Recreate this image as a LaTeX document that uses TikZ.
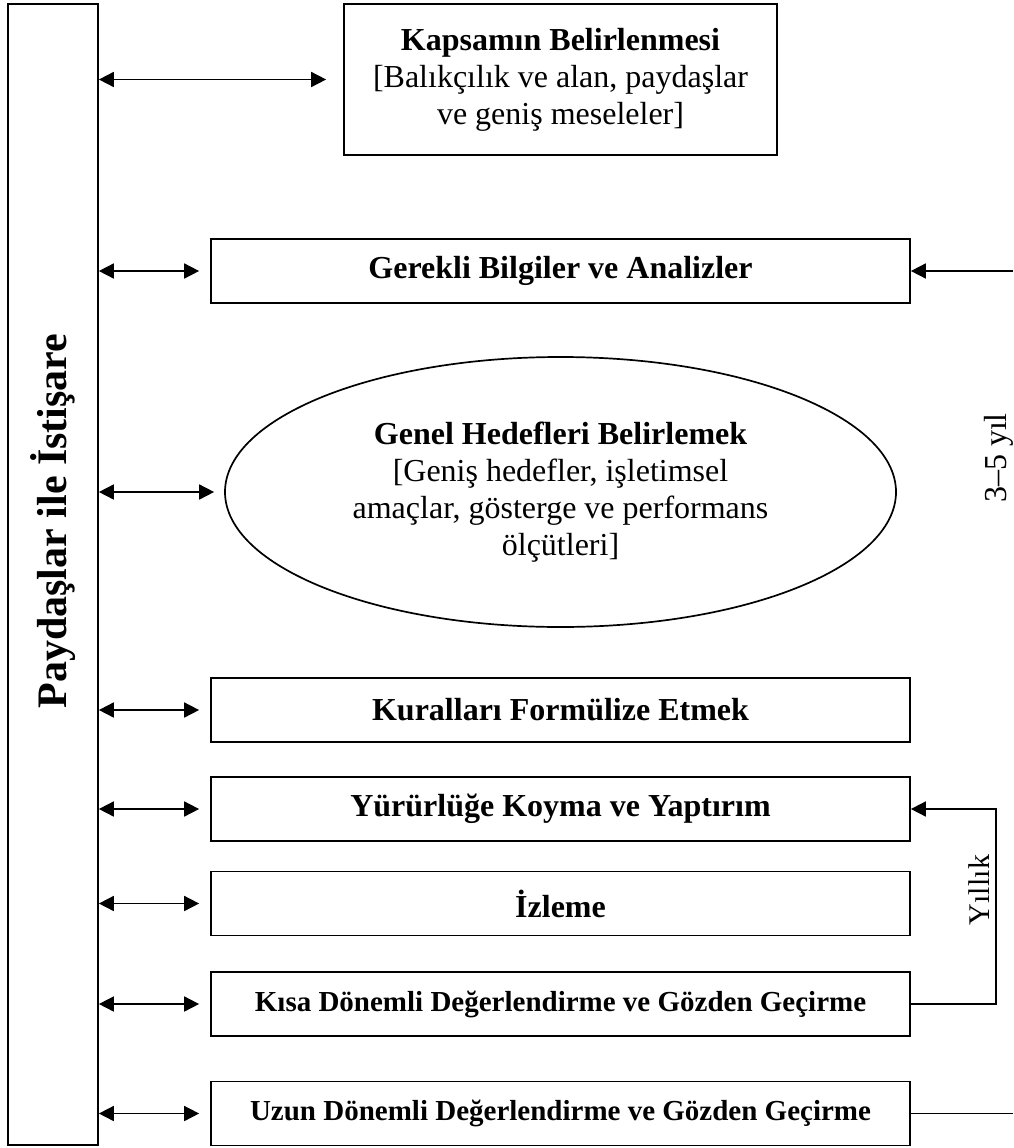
\documentclass[tikz,border=0pt]{standalone}
\usepackage{fontspec}
\setmainfont{Liberation Serif}
\usetikzlibrary{arrows.meta,shapes.geometric,calc}
\begin{document}
\begin{tikzpicture}[x=1pt,y=-1pt,
  lw/.style={line width=1.7pt},
  boxstep/.style={draw, lw, minimum width=699pt, minimum height=64pt, inner sep=0pt,
    font=\fontsize{32}{37}\selectfont\bfseries},
  smallstep/.style={boxstep, font=\fontsize{29}{34}\selectfont\bfseries},
  dbl/.style={lw, {Triangle[length=15pt,width=15pt]}-{Triangle[length=15pt,width=15pt]}},
  sarrow/.style={lw, -{Triangle[length=15pt,width=15pt]}},
  plainline/.style={lw}]
\useasboundingbox (0,0) rectangle (1013,1148);
% left column
\node[draw, lw, minimum width=90pt, minimum height=1141pt, inner sep=0pt] (pay) at (53,574.5) {};
\node[rotate=90, font=\fontsize{42}{48}\selectfont\bfseries] (paylbl) at (53,521) {Paydaşlar ile İstişare};
% steps
\node[draw, lw, minimum width=433pt, minimum height=151pt, inner sep=0pt, align=center,
  font=\fontsize{32}{37}\selectfont] (kap) at (560.5,79.5)
  {\textbf{Kapsamın Belirlenmesi}\\{[}Balıkçılık ve alan, paydaşlar\\ve geniş meseleler{]}};
\node[boxstep] (ger) at (560.5,271) {Gerekli Bilgiler ve Analizler};
\node[draw, lw, ellipse, minimum width=671pt, minimum height=270pt, inner sep=0pt, align=center,
  font=\fontsize{32}{37}\selectfont] (gen) at (560.5,492)
  {\textbf{Genel Hedefleri Belirlemek}\\{[}Geniş hedefler, işletimsel\\amaçlar, gösterge ve performans\\ölçütleri{]}};
\node[boxstep] (kur) at (560.5,710) {Kuralları Formülize Etmek};
\node[boxstep] (yur) at (560.5,809) {Yürürlüğe Koyma ve Yaptırım};
\node[boxstep] (izl) at (560.5,903.5) {İzleme};
\node[smallstep] (kis) at (560.5,1004) {Kısa Dönemli Değerlendirme ve Gözden Geçirme};
\node[smallstep] (uzu) at (560.5,1113.5) {Uzun Dönemli Değerlendirme ve Gözden Geçirme};
% consultation arrows
\draw[dbl, shorten >=17pt] (pay.east |- kap.west) -- (kap.west);
\draw[dbl, shorten >=10pt] (pay.east |- gen.west) -- (gen.west);
\foreach \n in {ger,kur,yur,izl,kis,uzu}
  \draw[dbl, shorten >=11pt] (pay.east |- \n.west) -- (\n.west);
% right side
\coordinate (r1) at (1013,271);
\coordinate (r2) at (1013,1113.5);
\draw[sarrow] (r1) -- (ger.east);
\draw[plainline] (uzu.east) -- (r2);
\draw[sarrow] (kis.east) -- ++(85,0) |- (yur.east);
\node[rotate=90, anchor=base, font=\fontsize{32}{37}\selectfont] (t35) at (1006,458) {3–5 yıl};
\node[rotate=90, anchor=base, font=\fontsize{30}{35}\selectfont] (tyl) at (989,890) {Yıllık};
\end{tikzpicture}
\end{document}
